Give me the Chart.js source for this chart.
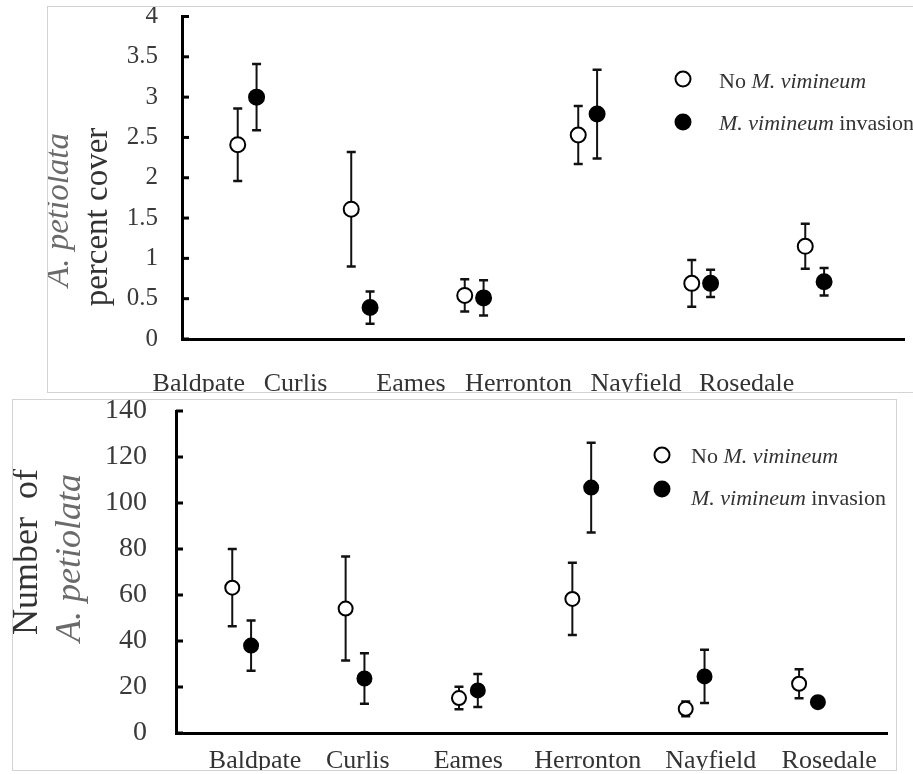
<!DOCTYPE html>
<html>
<head>
<meta charset="utf-8">
<script src="https://cdn.jsdelivr.net/npm/chart.js@4/dist/chart.umd.min.js"></script>
<style>
  html, body { margin: 0; padding: 0; background: #fff; }
  body { width: 913px; height: 774px; position: relative; overflow: hidden; }
  .panel { position: absolute; border: 1px solid #d3d3d3; }
  #p1 { left: 47px; top: 6px; border-right: none; }
  #p2 { left: 12px; top: 399px; }
  canvas { display: block; }
</style>
</head>
<body>
<div id="p1" class="panel"><canvas id="chartCover" width="866" height="385"></canvas></div>
<div id="p2" class="panel"><canvas id="chartCount" width="883" height="370"></canvas></div>
<script>
// ===== data =====
var sites = ['Baldpate', 'Curlis', 'Eames', 'Herronton', 'Nayfield', 'Rosedale'];
var seriesNames = ['No M. vimineum', 'M. vimineum invasion'];

// percent cover (mean, +/- error)
var coverNo       = [2.41, 1.61, 0.54, 2.53, 0.69, 1.15];
var coverNoErr    = [0.45, 0.71, 0.20, 0.36, 0.29, 0.28];
var coverInv      = [3.00, 0.39, 0.51, 2.79, 0.69, 0.71];
var coverInvErr   = [0.41, 0.20, 0.22, 0.55, 0.17, 0.17];
var coverTicks    = [0, 0.5, 1, 1.5, 2, 2.5, 3, 3.5, 4];

// number of plants (mean, +/- error)
var countNo       = [63.2, 54.1, 15.2, 58.3, 10.5, 21.4];
var countNoErr    = [16.8, 22.6, 4.9, 15.7, 3.2, 6.3];
var countInv      = [38.0, 23.7, 18.5, 106.7, 24.6, 13.4];
var countInvErr   = [10.9, 11.0, 7.2, 19.5, 11.6, 2.0];
var countTicks    = [0, 20, 40, 60, 80, 100, 120, 140];

// ---- layout (where the site names sit on each x axis) ----
var coverLabelAt = [0.574, 1.426, 2.443, 3.391, 4.426, 5.400];
var countLabelAt = [1.118, 2.024, 2.999, 4.053, 5.138, 6.183];
var PAIR_OFFSET = 0.083;
var SERIF = '"Liberation Serif", "Times New Roman", serif';

function points(means, sign) {
  return means.map(function(m, i) { return { x: i + 1 + sign * PAIR_OFFSET, y: m }; });
}

// error bars, inner tick marks, axis titles, legend
var decor = {
  id: 'decor',
  beforeDatasetsDraw: function(chart, args, o) {
    var ctx = chart.ctx, xs = chart.scales.x, ys = chart.scales.y;
    ctx.save();
    ctx.strokeStyle = '#111';
    chart.data.datasets.forEach(function(ds, di) {
      var err = o.errors[di];
      ds.data.forEach(function(p, i) {
        var x = xs.getPixelForValue(p.x);
        var yt = ys.getPixelForValue(p.y + err[i]), yb = ys.getPixelForValue(p.y - err[i]);
        ctx.lineWidth = 2;
        ctx.beginPath(); ctx.moveTo(x, yt); ctx.lineTo(x, yb); ctx.stroke();
        ctx.lineWidth = 2.5;
        ctx.beginPath();
        ctx.moveTo(x - 4.5, yt); ctx.lineTo(x + 4.5, yt);
        ctx.moveTo(x - 4.5, yb); ctx.lineTo(x + 4.5, yb);
        ctx.stroke();
      });
    });
    ctx.restore();
  },
  afterDraw: function(chart, args, o) {
    var ctx = chart.ctx, ys = chart.scales.y, area = chart.chartArea;
    ctx.save();
    // tick marks pointing into the plot
    ctx.strokeStyle = '#000'; ctx.lineWidth = 3;
    ys.ticks.forEach(function(t) {
      var y = ys.getPixelForValue(t.value);
      ctx.beginPath(); ctx.moveTo(area.left, y); ctx.lineTo(area.left + 7, y); ctx.stroke();
    });
    // rotated titles
    o.titles.forEach(function(t) {
      ctx.save();
      ctx.translate(t.x, t.y); ctx.rotate(-Math.PI / 2);
      ctx.font = (t.italic ? 'italic ' : '') + t.size + 'px ' + SERIF;
      ctx.fillStyle = t.color; ctx.textAlign = 'center'; ctx.textBaseline = 'alphabetic';
      ctx.fillText(t.text, 0, 0);
      ctx.restore();
    });
    // legend
    var lg = o.legend;
    chart.data.datasets.forEach(function(ds, di) {
      var cy = lg.y[di];
      ctx.beginPath(); ctx.arc(lg.x, cy, lg.r, 0, Math.PI * 2);
      ctx.fillStyle = ds.backgroundColor; ctx.fill();
      ctx.lineWidth = 2; ctx.strokeStyle = '#000'; ctx.stroke();
      var tx = lg.textX;
      ctx.fillStyle = '#333'; ctx.textAlign = 'left'; ctx.textBaseline = 'alphabetic';
      lg.parts[di].forEach(function(p) {
        ctx.font = (p.i ? 'italic ' : '') + lg.size + 'px ' + SERIF;
        ctx.fillText(p.t, tx, lg.base[di]);
        tx += ctx.measureText(p.t).width;
      });
    });
    ctx.restore();
  }
};

var legendParts = [
  [{ t: 'No ', i: false }, { t: 'M. vimineum', i: true }],
  [{ t: 'M. vimineum', i: true }, { t: ' invasion', i: false }]
];

function makeChart(id, c) {
  var sizeCfg = function(prop, v) { return function(s) { s[prop] = v; s.paddingTop = 0; s.paddingBottom = 0; s.paddingLeft = 0; s.paddingRight = 0; }; };
  return new Chart(document.getElementById(id), {
    type: 'scatter',
    data: {
      datasets: [
        { label: seriesNames[0], data: points(c.no, -1), backgroundColor: '#fff', borderColor: '#000',
          pointRadius: c.r, pointHoverRadius: c.r, pointBorderWidth: 2, pointHoverBorderWidth: 2 },
        { label: seriesNames[1], data: points(c.inv, 1), backgroundColor: '#000', borderColor: '#000',
          pointRadius: c.r, pointHoverRadius: c.r, pointBorderWidth: 2, pointHoverBorderWidth: 2 }
      ]
    },
    options: {
      responsive: false, animation: false, devicePixelRatio: 1,
      layout: { padding: { top: c.padTop, left: 0, right: 0, bottom: 0 } },
      plugins: {
        legend: { display: false }, tooltip: { enabled: false },
        decor: { errors: [c.noErr, c.invErr], titles: c.titles, legend: c.legend }
      },
      scales: {
        x: {
          type: 'linear', min: c.xMin, max: c.xMax,
          afterBuildTicks: function(s) { s.ticks = c.labelAt.map(function(v) { return { value: v }; }); },
          afterFit: sizeCfg('height', c.xHeight),
          grid: { display: true, drawOnChartArea: false, drawTicks: false },
          border: { display: true, color: '#000', width: 3 },
          ticks: {
            autoSkip: false, maxRotation: 0, padding: c.xPad, color: '#333',
            font: { family: SERIF, size: 26 },
            callback: function(v, i) { return sites[i]; }
          }
        },
        y: {
          min: c.yTicks[0], max: c.yTicks[c.yTicks.length - 1],
          afterBuildTicks: function(s) { s.ticks = c.yTicks.map(function(v) { return { value: v }; }); },
          afterFit: sizeCfg('width', c.yWidth),
          grid: { display: true, drawOnChartArea: false, drawTicks: false },
          border: { display: true, color: '#000', width: 3 },
          ticks: {
            padding: c.yPad, color: '#3a3a3a', font: { family: SERIF, size: c.yFont },
            callback: function(v) { return String(v); }
          }
        }
      }
    },
    plugins: [decor]
  });
}

makeChart('chartCover', {
  no: coverNo, noErr: coverNoErr, inv: coverInv, invErr: coverInvErr, yTicks: coverTicks,
  r: 7.5, padTop: 8, xMin: 0.4261, xMax: 6.7913, labelAt: coverLabelAt,
  xHeight: 53, xPad: 30, yWidth: 134, yPad: 24, yFont: 25,
  titles: [
    { text: 'A. petiolata', italic: true, size: 33, color: '#6a6a6a', x: 20, y: 203 },
    { text: 'percent cover', italic: false, size: 33, color: '#333', x: 59, y: 210 }
  ],
  legend: { x: 635, y: [72, 115], r: 7.5, textX: 671, base: [81, 123], size: 22, parts: legendParts }
});

makeChart('chartCount', {
  no: countNo, noErr: countNoErr, inv: countInv, invErr: countInvErr, yTicks: countTicks,
  r: 7, padTop: 11, xMin: 0.4207, xMax: 6.6925, labelAt: countLabelAt,
  xHeight: 37, xPad: 13, yWidth: 163, yPad: 29, yFont: 28,
  titles: [
    { text: 'Number  of', italic: false, size: 36, color: '#333', x: 24, y: 152 },
    { text: 'A. petiolata', italic: true, size: 36, color: '#6a6a6a', x: 67, y: 158 }
  ],
  legend: { x: 649, y: [55, 89], r: 7.5, textX: 678, base: [63, 105], size: 22, parts: legendParts }
});
</script>
</body>
</html>
